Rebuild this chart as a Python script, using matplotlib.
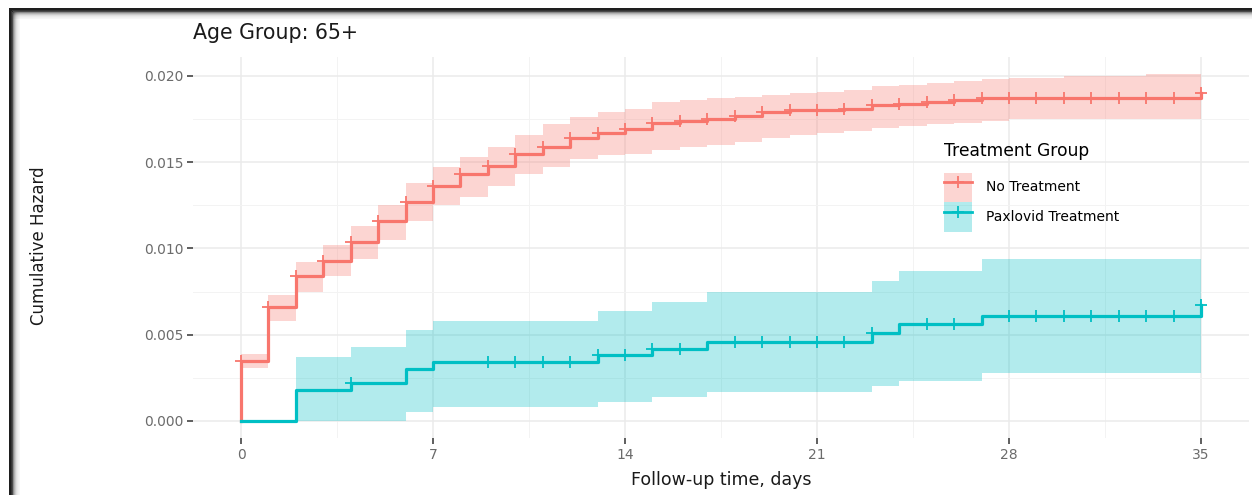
import numpy as np
import matplotlib
matplotlib.use('Agg')
import matplotlib.pyplot as plt
from matplotlib.patches import Patch, Rectangle
from matplotlib.lines import Line2D

# cumulative hazard by follow-up day (step function, value holds from day t to t+1)
days = np.arange(36)

no_tx_haz = [0.0035, 0.0066, 0.0084, 0.0093, 0.0104, 0.0116, 0.0127, 0.0136, 0.0143, 0.0148,
             0.0155, 0.0159, 0.0164, 0.0167, 0.0169, 0.0173, 0.0174, 0.0175, 0.0177, 0.0179,
             0.0180, 0.0180, 0.0181, 0.0183, 0.0184, 0.0185, 0.0186, 0.0187, 0.0187, 0.0187,
             0.0187, 0.0187, 0.0187, 0.0187, 0.0187, 0.0190]
no_tx_lo = [0.0031, 0.0058, 0.0075, 0.0084, 0.0094, 0.0105, 0.0116, 0.0125, 0.0130, 0.0136,
            0.0143, 0.0147, 0.0152, 0.0154, 0.0155, 0.0157, 0.0159, 0.0160, 0.0162, 0.0164,
            0.0166, 0.0167, 0.0168, 0.0170, 0.0171, 0.0172, 0.0173, 0.0174, 0.0175, 0.0175,
            0.0175, 0.0175, 0.0175, 0.0175, 0.0175, 0.0175]
no_tx_hi = [0.0039, 0.0073, 0.0092, 0.0102, 0.0113, 0.0125, 0.0138, 0.0147, 0.0153, 0.0159,
            0.0166, 0.0172, 0.0176, 0.0179, 0.0181, 0.0185, 0.0186, 0.0187, 0.0188, 0.0189,
            0.0190, 0.0191, 0.0192, 0.0194, 0.0195, 0.0196, 0.0197, 0.0198, 0.0199, 0.0199,
            0.0200, 0.0200, 0.0200, 0.0201, 0.0201, 0.0201]
no_tx_censor = list(range(36))

pax_haz = [0.0, 0.0, 0.0018, 0.0018, 0.0022, 0.0022, 0.0030, 0.0034, 0.0034, 0.0034,
           0.0034, 0.0034, 0.0034, 0.0038, 0.0038, 0.0042, 0.0042, 0.0046, 0.0046, 0.0046,
           0.0046, 0.0046, 0.0046, 0.0051, 0.0056, 0.0056, 0.0056, 0.0061, 0.0061, 0.0061,
           0.0061, 0.0061, 0.0061, 0.0061, 0.0061, 0.0067]
pax_lo = [0.0, 0.0, 0.0, 0.0, 0.0, 0.0, 0.0005, 0.0008, 0.0008, 0.0008,
          0.0008, 0.0008, 0.0008, 0.0011, 0.0011, 0.0014, 0.0014, 0.0017, 0.0017, 0.0017,
          0.0017, 0.0017, 0.0017, 0.0020, 0.0023, 0.0023, 0.0023, 0.0028, 0.0028, 0.0028,
          0.0028, 0.0028, 0.0028, 0.0028, 0.0028, 0.0028]
pax_hi = [0.0, 0.0, 0.0037, 0.0037, 0.0043, 0.0043, 0.0053, 0.0058, 0.0058, 0.0058,
          0.0058, 0.0058, 0.0058, 0.0064, 0.0064, 0.0069, 0.0069, 0.0075, 0.0075, 0.0075,
          0.0075, 0.0075, 0.0075, 0.0081, 0.0087, 0.0087, 0.0087, 0.0094, 0.0094, 0.0094,
          0.0094, 0.0094, 0.0094, 0.0094, 0.0094, 0.0094]
pax_censor = [4, 9, 10, 11, 12, 13, 14, 15, 16, 18, 19, 20, 21, 22, 23, 25, 26,
              28, 29, 30, 31, 32, 33, 34, 35]

groups = ['No Treatment', 'Paxlovid Treatment']
RED, TEAL = '#F8766D', '#00BFC4'

W, H = 1252, 495
fig = plt.figure(figsize=(W / 100, H / 100), dpi=100)
ax = fig.add_axes([193 / W, 1 - 438 / H, (1249 - 193) / W, (438 - 57) / H])

series = [
    (no_tx_haz, no_tx_lo, no_tx_hi, no_tx_censor, RED),
    (pax_haz, pax_lo, pax_hi, pax_censor, TEAL),
]
handles = []
for (haz, lo, hi, cens, col), name in zip(series, groups):
    haz = np.asarray(haz)
    ax.fill_between(days, lo, hi, step='post', color=col, alpha=0.3, lw=0, zorder=2)
    ax.step(np.r_[0, days], np.r_[0, haz], where='post', color=col, lw=2.3, zorder=3)
    ax.plot(cens, haz[cens], ls='none', marker='+', ms=8, mew=1.3, color=col, zorder=4)
    handles.append((Patch(facecolor=col, alpha=0.3, lw=0),
                    Line2D([], [], color=col, lw=2.0, marker='+', ms=8, mew=1.3)))

ax.set_xlim(-1.75, 36.75)
ax.set_ylim(-0.000986, 0.0211)
ax.set_xticks(np.arange(0, 36, 7))
ax.set_xticks(np.arange(3.5, 36, 7), minor=True)
ax.set_yticks(np.arange(0, 0.0201, 0.005))
ax.set_yticks(np.arange(0.0025, 0.0201, 0.005), minor=True)
ax.yaxis.set_major_formatter(matplotlib.ticker.FormatStrFormatter('%.3f'))

for s in ax.spines.values():
    s.set_visible(False)
ax.grid(which='major', color='#EBEBEB', lw=1.1, zorder=0)
ax.grid(which='minor', color='#F3F3F3', lw=0.7, zorder=0)
ax.set_axisbelow(True)
ax.tick_params(which='major', length=4, width=1.1, color='#333333', pad=3,
               labelsize=10, labelcolor='#6b6b6b')
ax.tick_params(which='minor', length=0)

ax.set_xlabel('Follow-up time, days', fontsize=12.5, color='#1a1a1a', labelpad=7)
ax.set_ylabel('Cumulative Hazard', fontsize=12, color='#1a1a1a')
ax.yaxis.set_label_coords(48 / W, 1 - 246 / H, transform=fig.transFigure)

fig.text(193 / W, 1 - 33 / H, 'Age Group: 65+', fontsize=14.8, color='#1a1a1a',
         ha='left', va='center')

leg = fig.legend(handles, groups, loc='upper left', bbox_to_anchor=(944 / W, 1 - 142 / H),
                 title='Treatment Group', title_fontsize=12.3, fontsize=10,
                 frameon=False, handlelength=2.0, handleheight=2.9, labelspacing=0.0,
                 handletextpad=1.0, borderpad=0, borderaxespad=0)
leg._legend_box.align = 'left'
leg._legend_box.sep = 9

# dark screen-capture frame along the top and left edges
for i, a in enumerate([1.0, 1.0, 0.9, 0.8, 0.45, 0.3, 0.2, 0.12, 0.08, 0.05, 0.03]):
    col = '#1e1e1e' if i < 4 else '#000000'
    fig.add_artist(Rectangle(((9 + i) / W, 0), 1 / W, 1 - (8 + min(i, 4)) / H,
                             transform=fig.transFigure, color=col, alpha=a, lw=0, zorder=10))
    fig.add_artist(Rectangle(((9 + min(i, 4)) / W, 1 - (9 + i) / H), 1, 1 / H,
                             transform=fig.transFigure, color=col, alpha=a, lw=0, zorder=10))

fig.savefig('out.png', dpi=100)
